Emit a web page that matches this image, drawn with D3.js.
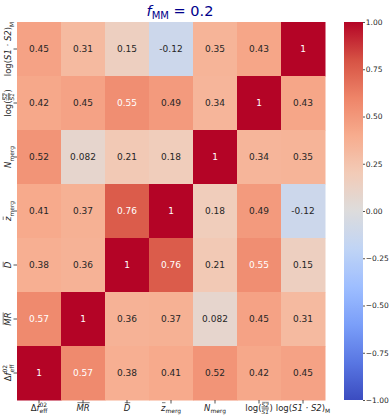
<!DOCTYPE html>
<html>
<head>
<meta charset="utf-8">
<script src="https://cdn.jsdelivr.net/npm/d3@7"></script>
<style>
  body { margin: 0; background: #fff; }
  text { font-family: "DejaVu Sans", sans-serif; }
</style>
</head>
<body>
<svg id="chart" width="390" height="419"></svg>
<script>
'use strict';

// column order (left to right); rows are drawn in reverse (top = last)
var labels = [
    [{t: 'Δ'}, {t: 'f', it: true}, {t: 'eff', sub: true, stack: '02'}],
    [{t: 'MR', it: true, over: true}],
    [{t: 'D', it: true, over: true}],
    [{t: 'z', it: true, over: true}, {t: 'merg', sub: true}],
    [{t: 'N', it: true}, {t: 'merg', sub: true}],
    [{t: 'log '}, {t: '('}, {frac: ['S2', 'S1']}, {t: ')'}],
    [{t: 'log '}, {t: '('}, {t: 'S1 · S2', it: true}, {t: ')'}, {t: 'M', sub: true}]
];

// rows from top to bottom
var matrix = [
    [0.45, 0.31, 0.15, -0.12, 0.35, 0.43, 1],
    [0.42, 0.45, 0.55, 0.49, 0.34, 1, 0.43],
    [0.52, 0.082, 0.21, 0.18, 1, 0.34, 0.35],
    [0.41, 0.37, 0.76, 1, 0.18, 0.49, -0.12],
    [0.38, 0.36, 1, 0.76, 0.21, 0.55, 0.15],
    [0.57, 1, 0.36, 0.37, 0.082, 0.45, 0.31],
    [1, 0.57, 0.38, 0.41, 0.52, 0.42, 0.45]
];

var cbarTicks = [-1, -0.75, -0.5, -0.25, 0, 0.25, 0.5, 0.75, 1];

// matplotlib coolwarm sampled at 11 points
var coolwarm = ['#3b4cc0', '#5977e3', '#7b9ff9', '#9ebeff', '#c0d4f5', '#dddcdc',
                '#f2cbb7', '#f7ac8e', '#ee8468', '#d65244', '#b40426'];

var svg = d3.select('#chart');
var mLeft = 17, mTop = 22, cw = 44, ch = 54;
var n = labels.length;

var color = d3.scaleLinear()
    .domain(d3.range(11).map(function(i) { return -1 + i * 0.2; }))
    .range(coolwarm)
    .interpolate(d3.interpolateRgb);

var x = d3.scaleBand().domain(d3.range(n)).range([mLeft, mLeft + n * cw]);
var y = d3.scaleBand().domain(d3.range(n)).range([mTop, mTop + n * ch]);

function lum(c) {
    var rgb = d3.rgb(c);
    var v = [rgb.r, rgb.g, rgb.b].map(function(k) {
        k = k / 255;
        return k <= 0.03928 ? k / 12.92 : Math.pow((k + 0.055) / 1.055, 2.4);
    });
    return 0.2126 * v[0] + 0.7152 * v[1] + 0.0722 * v[2];
}

var fmt = d3.format('.2~g');

var cells = [];
matrix.forEach(function(row, r) {
    row.forEach(function(v, c) { cells.push({r: r, c: c, v: v}); });
});

svg.append('g').selectAll('rect').data(cells).join('rect')
    .attr('x', function(d) { return x(d.c); })
    .attr('y', function(d) { return y(d.r); })
    .attr('width', x.bandwidth() + 0.5)
    .attr('height', y.bandwidth() + 0.5)
    .attr('fill', function(d) { return color(d.v); });

svg.append('g').selectAll('text').data(cells).join('text')
    .attr('x', function(d) { return x(d.c) + cw / 2; })
    .attr('y', function(d) { return y(d.r) + ch / 2; })
    .attr('text-anchor', 'middle')
    .attr('dy', '0.35em')
    .style('font-size', '9px')
    .attr('fill', function(d) { return lum(color(d.v)) > 0.408 ? '#262626' : '#fff'; })
    .text(function(d) { return fmt(d.v).replace('−', '-'); });

// rich math-like label, centered on 0
function richLabel(g, parts, size) {
    var inner = g.append('g');
    var pos = 0;
    parts.forEach(function(p) {
        if (p.frac) {
            var fs = size * 0.68;
            var a = inner.append('text').attr('x', pos).attr('y', -size * 0.42)
                .style('font-size', fs + 'px').style('font-style', 'italic').text(p.frac[0]);
            var b = inner.append('text').attr('x', pos).attr('y', size * 0.38)
                .style('font-size', fs + 'px').style('font-style', 'italic').text(p.frac[1]);
            var w = Math.max(a.node().getComputedTextLength(), b.node().getComputedTextLength());
            inner.append('line').attr('x1', pos).attr('x2', pos + w)
                .attr('y1', -size * 0.3).attr('y2', -size * 0.3)
                .attr('stroke', '#262626').attr('stroke-width', 0.6);
            [-size * 0.42 - fs * 0.8, size * 0.38 - fs * 0.8].forEach(function(yy) {
                inner.append('line').attr('x1', pos + 0.5).attr('x2', pos + w)
                    .attr('y1', yy).attr('y2', yy)
                    .attr('stroke', '#262626').attr('stroke-width', 0.5);
            });
            pos += w + 0.5;
            return;
        }
        var small = p.sub || p.sup;
        var fsz = small ? size * 0.7 : size;
        var t = inner.append('text').attr('x', pos)
            .attr('y', p.sub ? size * 0.3 : 0)
            .style('font-size', fsz + 'px')
            .style('font-style', p.it ? 'italic' : 'normal')
            .text(p.t);
        var w = t.node().getComputedTextLength();
        if (p.stack) {
            var s = inner.append('text').attr('x', pos).attr('y', -size * 0.45)
                .style('font-size', fsz + 'px').text(p.stack);
            w = Math.max(w, s.node().getComputedTextLength());
        }
        if (p.over) {
            inner.append('line').attr('x1', pos + 1).attr('x2', pos + w)
                .attr('y1', -size * 0.92).attr('y2', -size * 0.92)
                .attr('stroke', '#262626').attr('stroke-width', 0.6);
        }
        pos += w;
    });
    inner.attr('transform', 'translate(' + (-pos / 2) + ',0)');
    inner.selectAll('text').attr('fill', '#262626');
}

var fs = 8.5;

// bottom ticks + labels
labels.forEach(function(lab, i) {
    var cx = x(i) + cw / 2;
    svg.append('line').attr('x1', cx).attr('x2', cx)
        .attr('y1', mTop + n * ch).attr('y2', mTop + n * ch + 3.5)
        .attr('stroke', '#262626').attr('stroke-width', 0.8);
    var g = svg.append('g').attr('transform', 'translate(' + cx + ',' + (mTop + n * ch + 10.5) + ')');
    richLabel(g, lab, fs);
});

// left ticks + labels (row r shows label n-1-r)
labels.forEach(function(lab, i) {
    var r = n - 1 - i;
    var cyy = y(r) + ch / 2;
    svg.append('line').attr('x1', mLeft).attr('x2', mLeft - 3.5)
        .attr('y1', cyy).attr('y2', cyy)
        .attr('stroke', '#262626').attr('stroke-width', 0.8);
    var g = svg.append('g').attr('transform', 'translate(11,' + cyy + ') rotate(-90)');
    richLabel(g, lab, fs);
});

// colorbar
var cbx = 344, cbw = 19;
var cbScale = d3.scaleLinear().domain([-1, 1]).range([mTop + n * ch, mTop]);
var grad = svg.append('defs').append('linearGradient').attr('id', 'cbar')
    .attr('x1', 0).attr('y1', 1).attr('x2', 0).attr('y2', 0);
d3.range(0, 1.0001, 0.02).forEach(function(t) {
    grad.append('stop').attr('offset', t).attr('stop-color', color(-1 + 2 * t));
});
svg.append('rect').attr('x', cbx).attr('y', mTop)
    .attr('width', cbw).attr('height', n * ch).attr('fill', 'url(#cbar)');

var ax = svg.append('g').attr('transform', 'translate(' + (cbx + cbw) + ',0)')
    .call(d3.axisRight(cbScale).tickValues(cbarTicks).tickFormat(d3.format('.2f')).tickSize(2).tickPadding(0.8));
ax.select('.domain').remove();
ax.selectAll('line').attr('stroke', '#262626').attr('stroke-width', 0.8);
ax.selectAll('text').style('font-size', '7.5px').style('font-family', '"DejaVu Sans", sans-serif').attr('fill', '#262626');

// title
var title = svg.append('text').attr('x', 180).attr('y', 16)
    .attr('text-anchor', 'middle').attr('fill', '#00008b').style('font-size', '14.5px');
title.append('tspan').style('font-style', 'italic').text('f');
title.append('tspan').attr('dy', 3).style('font-size', '10px').text('MM');
title.append('tspan').attr('dy', -3).text(' = 0.2');
</script>
</body>
</html>
